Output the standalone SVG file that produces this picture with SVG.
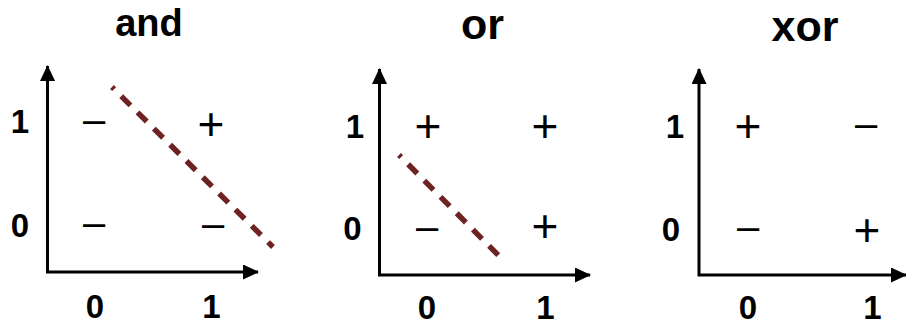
<svg xmlns="http://www.w3.org/2000/svg" width="906" height="327" viewBox="0 0 906 327">
<style>
.title{font-family:"Liberation Sans",Arial,sans-serif;font-weight:bold;fill:#000;text-anchor:middle}
.num{font-family:"Liberation Sans",Arial,sans-serif;font-weight:bold;font-size:33px;fill:#000;text-anchor:middle}
.plus{font-family:"Liberation Sans",Arial,sans-serif;font-size:46px;fill:#000;text-anchor:middle}
.minus{font-family:"Liberation Sans",Arial,sans-serif;font-size:40px;fill:#000;text-anchor:middle}
.axis{fill:none;stroke:#000;stroke-width:3;marker-start:url(#ah);marker-end:url(#ah)}
.sep{stroke:#6e2222;stroke-width:5.5;stroke-dasharray:13 10;stroke-dashoffset:10;fill:none}
</style>
<defs>
<marker id="ah" markerUnits="userSpaceOnUse" markerWidth="16" markerHeight="15" refX="15" refY="7.5" orient="auto-start-reverse">
<path d="M0,0 L16,7.5 L0,15 Z" fill="#000"/>
</marker>
</defs>
<rect width="906" height="327" fill="#fff"/>
<g id="and">
<text class="title" x="149" y="36" font-size="38">and</text>
<path class="axis" d="M47.5,66 L47.5,272 L258,272"/>
<line class="sep" x1="112" y1="87" x2="273" y2="247"/>
<text class="num" x="20" y="133">1</text>
<text class="num" x="20" y="237">0</text>
<text class="num" x="95" y="318">0</text>
<text class="num" x="211.5" y="318">1</text>
<text class="minus" x="94" y="133">–</text>
<text class="plus" x="211" y="140">+</text>
<text class="minus" x="94" y="236">–</text>
<text class="minus" x="213" y="237">–</text>
</g>
<g id="or">
<text class="title" x="482.5" y="39" font-size="43">or</text>
<path class="axis" d="M379.5,69 L379.5,275 L590,275"/>
<line class="sep" x1="399" y1="155" x2="505" y2="262"/>
<text class="num" x="355" y="138">1</text>
<text class="num" x="352.5" y="240">0</text>
<text class="num" x="427" y="319">0</text>
<text class="num" x="545.5" y="319">1</text>
<text class="plus" x="428" y="142">+</text>
<text class="plus" x="545" y="142">+</text>
<text class="minus" x="427" y="240">–</text>
<text class="plus" x="545" y="242">+</text>
</g>
<g id="xor">
<text class="title" x="805" y="41" font-size="43">xor</text>
<path class="axis" d="M699,69 L699,275 L906,275"/>
<text class="num" x="675" y="138">1</text>
<text class="num" x="671" y="241">0</text>
<text class="num" x="748" y="319">0</text>
<text class="num" x="872.5" y="319">1</text>
<text class="plus" x="748" y="142">+</text>
<text class="minus" x="866" y="137">–</text>
<text class="minus" x="748" y="240">–</text>
<text class="plus" x="867" y="246">+</text>
</g>
</svg>
